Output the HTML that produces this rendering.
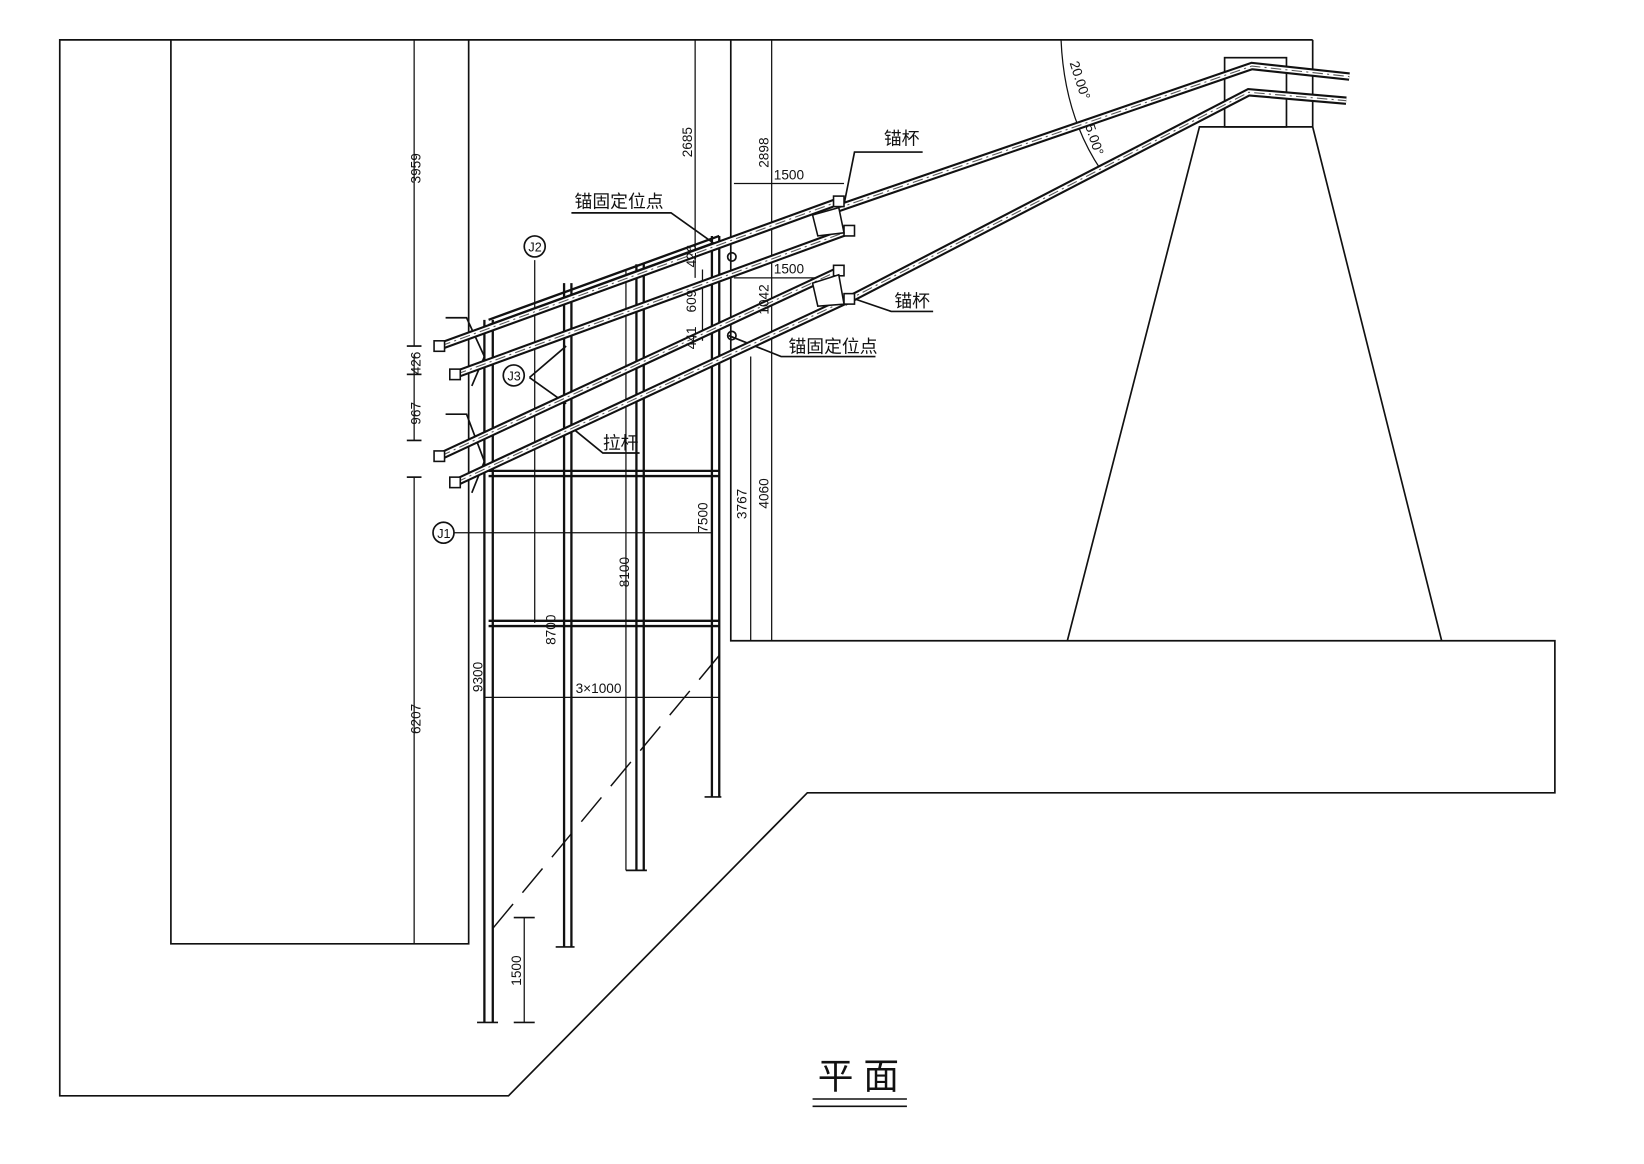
<!DOCTYPE html>
<html><head><meta charset="utf-8"><style>
html,body{margin:0;padding:0;background:#fff;}
svg{display:block;}
text{font-family:"Liberation Sans","Noto Sans CJK SC",sans-serif;fill:#111;}
</style></head><body>
<svg width="1644" height="1164" viewBox="0 0 1568 1110" preserveAspectRatio="none" xmlns="http://www.w3.org/2000/svg">
<g fill="none" stroke="#111" stroke-width="1.6">
<polyline points="1252,38 57,38 57,1045 485,1045 770,756 1483,756 1483,611 697,611 697,38"/>
<line x1="1252" y1="38" x2="1252" y2="121"/>
<polyline points="163,38 163,900 447,900 447,38"/>
<rect x="1168" y="55" width="59" height="66"/>
<polyline points="1018,611 1144,121 1252,121 1375,611"/>
<line x1="736" y1="38" x2="736" y2="611" stroke-width="1.2"/>
<line x1="663" y1="38" x2="663" y2="265" stroke-width="1.2"/>
<line x1="395" y1="38" x2="395" y2="330" stroke-width="1.2"/>
<line x1="395" y1="338" x2="395" y2="420" stroke-width="1.2"/>
<line x1="395" y1="455" x2="395" y2="900" stroke-width="1.2"/>
<line x1="388" y1="330" x2="402" y2="330"/><line x1="388" y1="357" x2="402" y2="357"/>
<line x1="388" y1="420" x2="402" y2="420"/><line x1="388" y1="455" x2="402" y2="455"/>
<line x1="447" y1="318" x2="447" y2="900" stroke-width="1.2"/>
<line x1="510" y1="248" x2="510" y2="594" stroke-width="1.2"/>
<line x1="597" y1="258" x2="597" y2="830" stroke-width="1.2"/>
<line x1="716" y1="340" x2="716" y2="611" stroke-width="1.2"/>
<line x1="500" y1="875" x2="500" y2="975" stroke-width="1.2"/>
<line x1="490" y1="875" x2="510" y2="875"/><line x1="490" y1="975" x2="510" y2="975"/>
<line x1="433" y1="508" x2="680" y2="508" stroke-width="1.2"/>
<line x1="462" y1="665" x2="686" y2="665" stroke-width="1.2"/>
<line x1="700" y1="175" x2="805" y2="175" stroke-width="1.2"/>
<line x1="700" y1="265" x2="800" y2="265" stroke-width="1.2"/>
<line x1="670" y1="257" x2="670" y2="325" stroke-width="1.2"/>
<line x1="686" y1="625" x2="462" y2="895" stroke-dasharray="30,14" stroke-width="1.4"/>
<g stroke-width="2.2">
<line x1="462" y1="305" x2="462" y2="975"/><line x1="470" y1="305" x2="470" y2="975"/>
<line x1="538" y1="270" x2="538" y2="903"/><line x1="545" y1="270" x2="545" y2="903"/>
<line x1="607" y1="252" x2="607" y2="830"/><line x1="614" y1="252" x2="614" y2="830"/>
<line x1="679" y1="225" x2="679" y2="760"/><line x1="686" y1="225" x2="686" y2="760"/>
<line x1="466" y1="305" x2="686" y2="225"/><line x1="466" y1="310" x2="680" y2="232"/>
<line x1="466" y1="449" x2="686" y2="449"/><line x1="466" y1="454" x2="686" y2="454"/>
<line x1="466" y1="592" x2="686" y2="592"/><line x1="466" y1="597" x2="686" y2="597"/>
</g>
<line x1="455" y1="975" x2="475" y2="975"/><line x1="530" y1="903" x2="548" y2="903"/>
<line x1="597" y1="830" x2="617" y2="830"/><line x1="672" y1="760" x2="688" y2="760"/>
<path d="M1012,38 Q1015,110 1050,162" stroke-width="1.2"/>
<polyline points="545,203 640,203 685,235"/>
<polyline points="695,320 745,340 835,340"/>
<polyline points="505,360 540,330"/><polyline points="505,360 540,385"/>
<polyline points="548,410 575,432 610,432"/>
<polyline points="805,195 815,145 880,145"/>
<polyline points="815,285 850,297 890,297"/>
<circle cx="698" cy="245" r="4"/><circle cx="698" cy="320" r="4"/>
<circle cx="510" cy="235" r="10"/><circle cx="490" cy="358" r="10"/><circle cx="423" cy="508" r="10"/>
<polyline points="425,303 445,303 462,340 450,368"/>
<polyline points="425,395 445,395 462,440 450,470"/>
</g>
<g fill="none" stroke-linecap="butt">
<g stroke="#111" stroke-width="8">
<line x1="420" y1="330" x2="800" y2="192"/><line x1="435" y1="357" x2="810" y2="220"/>
<line x1="420" y1="435" x2="800" y2="258"/><line x1="435" y1="460" x2="810" y2="285"/>
<polyline points="795,200 1194,63 1287,73"/><polyline points="805,288 1191,88 1284,96"/>
</g>
<g stroke="#fff" stroke-width="4">
<line x1="420" y1="330" x2="800" y2="192"/><line x1="435" y1="357" x2="810" y2="220"/>
<line x1="420" y1="435" x2="800" y2="258"/><line x1="435" y1="460" x2="810" y2="285"/>
<polyline points="795,200 1194,63 1287,73"/><polyline points="805,288 1191,88 1284,96"/>
</g>
<g stroke="#555" stroke-width="1" stroke-dasharray="10,4,2,4">
<line x1="420" y1="330" x2="800" y2="192"/><line x1="435" y1="357" x2="810" y2="220"/>
<line x1="420" y1="435" x2="800" y2="258"/><line x1="435" y1="460" x2="810" y2="285"/>
<polyline points="795,200 1194,63 1287,73"/><polyline points="805,288 1191,88 1284,96"/>
</g>
</g>
<g fill="#fff" stroke="#111" stroke-width="1.5">
<rect x="414" y="325" width="10" height="10"/><rect x="429" y="352" width="10" height="10"/>
<rect x="414" y="430" width="10" height="10"/><rect x="429" y="455" width="10" height="10"/>
<rect x="795" y="187" width="10" height="10"/><rect x="805" y="215" width="10" height="10"/>
<rect x="795" y="253" width="10" height="10"/><rect x="805" y="280" width="10" height="10"/>
<polygon points="775,205 800,198 805,222 780,225"/><polygon points="775,270 800,262 805,290 780,292"/>
</g>
<g font-size="13">
<text transform="translate(401,175) rotate(-90)">3959</text>
<text transform="translate(401,357) rotate(-90)">426</text>
<text transform="translate(401,405) rotate(-90)">967</text>
<text transform="translate(401,700) rotate(-90)">6207</text>
<text transform="translate(460,660) rotate(-90)">9300</text>
<text transform="translate(530,615) rotate(-90)">8700</text>
<text transform="translate(600,560) rotate(-90)">8100</text>
<text transform="translate(675,508) rotate(-90)">7500</text>
<text transform="translate(712,495) rotate(-90)">3767</text>
<text transform="translate(733,485) rotate(-90)">4060</text>
<text transform="translate(660,150) rotate(-90)">2685</text>
<text transform="translate(733,160) rotate(-90)">2898</text>
<text transform="translate(664,255) rotate(-90)">426</text>
<text transform="translate(664,298) rotate(-90)">609</text>
<text transform="translate(664,333) rotate(-90)">441</text>
<text transform="translate(733,300) rotate(-90)">1042</text>
<text transform="translate(497,940) rotate(-90)">1500</text>
<text x="738" y="171">1500</text>
<text x="738" y="261">1500</text>
<text x="549" y="661">3×1000</text>
<text transform="translate(1020,60) rotate(72)">20.00°</text>
<text transform="translate(1035,120) rotate(72)">5.00°</text>
<text x="504" y="240" font-size="12">J2</text>
<text x="484" y="363" font-size="12">J3</text>
<text x="417" y="513" font-size="12">J1</text>
</g>
<g font-size="17">
<text x="548" y="198">锚固定位点</text>
<text x="752" y="336">锚固定位点</text>
<text x="843" y="138">锚杯</text>
<text x="853" y="293">锚杯</text>
<text x="575" y="428">拉杆</text>
</g>
<text x="780" y="1038" font-size="34">平 面</text>
<line x1="775" y1="1048" x2="865" y2="1048" stroke="#111" stroke-width="1.5"/>
<line x1="775" y1="1055" x2="865" y2="1055" stroke="#111" stroke-width="1.5"/>
</svg>
</body></html>
